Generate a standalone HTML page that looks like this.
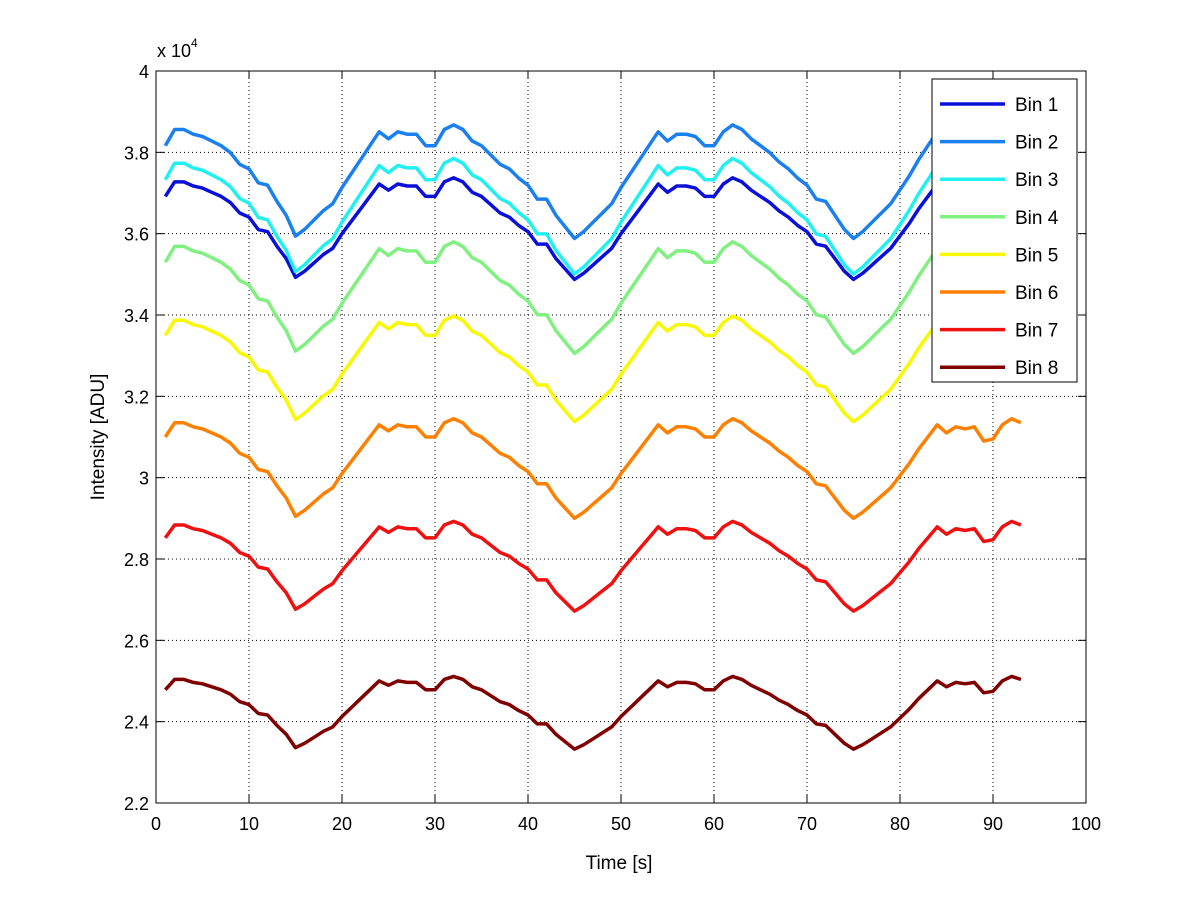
<!DOCTYPE html>
<html><head><meta charset="utf-8"><style>
body{margin:0;background:#fff;}
svg{display:block;font-family:"Liberation Sans",Arial,sans-serif;}
</style></head><body>
<svg id="chart" width="1200" height="901" viewBox="0 0 1200 901">
<rect x="0" y="0" width="1200" height="901" fill="#fff"/>
<g id="grid"></g>
<g id="series"></g>
<rect x="156" y="71" width="930" height="732" fill="none" stroke="#000" stroke-width="1"/>
<g id="ticks"></g>
<text x="157" y="57" font-size="18">x 10<tspan dy="-10" font-size="12">4</tspan></text>
<text x="619" y="869" font-size="19" text-anchor="middle">Time [s]</text>
<text transform="translate(104,437) rotate(-90)" font-size="19" text-anchor="middle">Intensity [ADU]</text>
<g id="legend"></g>
</svg>
<script>
const bin6 = [3.10,3.135,3.135,3.125,3.12,3.11,3.10,3.085,3.06,3.05,3.02,3.015,2.98,2.95,2.905,2.92,2.94,2.96,2.975,3.01,3.04,3.07,3.10,3.13,3.115,3.13,3.125,3.125,3.10,3.10,3.135,3.145,3.135,3.11,3.10,3.08,3.06,3.05,3.03,3.015,2.985,2.985,2.95,2.925,2.90,2.915,2.935,2.955,2.975,3.01,3.04,3.07,3.10,3.13,3.11,3.125,3.125,3.12,3.10,3.10,3.13,3.145,3.135,3.115,3.10,3.085,3.065,3.05,3.03,3.015,2.985,2.98,2.95,2.92,2.90,2.915,2.935,2.955,2.975,3.005,3.035,3.07,3.10,3.13,3.11,3.125,3.12,3.125,3.09,3.095,3.13,3.145,3.135];
const binNames = ["Bin 1","Bin 2","Bin 3","Bin 4","Bin 5","Bin 6","Bin 7","Bin 8"];
const binMids = [3.61,3.725,3.64,3.44,3.265,3.02,2.78,2.42];
const binScales = [1.02,1.14,1.16,1.12,1.06,1.0,0.9,0.73];
const binColors = ["#0a10d8","#1a80f0","#20f0f0","#80f080","#f8f800","#ff8000","#f01010","#800000"];
const xTicks = [0,10,20,30,40,50,60,70,80,90,100];
const yTicks = [2.2,2.4,2.6,2.8,3,3.2,3.4,3.6,3.8,4];
const NS="http://www.w3.org/2000/svg";
const X0=156,X1=1086,Y0=803,Y1=71;
const xs=v=>X0+(v-0)/(100-0)*(X1-X0);
const ys=v=>Y0-(v-2.2)/(4-2.2)*(Y0-Y1);
function mk(t,a,p){const e=document.createElementNS(NS,t);for(const k in a)e.setAttribute(k,a[k]);p.appendChild(e);return e;}
const grid=document.getElementById('grid'),ticks=document.getElementById('ticks');
xTicks.forEach(v=>{
  const x=xs(v);
  if(v>0&&v<100){const g=mk('line',{x1:x,y1:Y0,x2:x,y2:Y1,stroke:'#000','stroke-width':1,'stroke-dasharray':'1,3'},grid);
  
  }
  mk('line',{x1:x,y1:Y0,x2:x,y2:Y0-8,stroke:'#000'},ticks);
  mk('line',{x1:x,y1:Y1,x2:x,y2:Y1+8,stroke:'#000'},ticks);
  const t=mk('text',{x:x,y:Y0+27,'font-size':18,'text-anchor':'middle'},ticks);t.textContent=v;
  
  
});
yTicks.forEach(v=>{
  const y=ys(v);
  if(v>2.2&&v<4){const g=mk('line',{x1:X0,y1:y,x2:X1,y2:y,stroke:'#000','stroke-width':1,'stroke-dasharray':'1,3'},grid);
  
  }
  mk('line',{x1:X0,y1:y,x2:X0+8,y2:y,stroke:'#000'},ticks);
  mk('line',{x1:X1,y1:y,x2:X1-8,y2:y,stroke:'#000'},ticks);
  const t=mk('text',{x:X0-7,y:y+7,'font-size':18,'text-anchor':'end'},ticks);t.textContent=(Math.round(v*10)/10).toString();
  
  
});
const ser=document.getElementById('series');
binNames.forEach((n,i)=>{
  const pts=bin6.map((v,j)=>xs(j+1).toFixed(1)+','+ys(binMids[i]+binScales[i]*(v-3.02)).toFixed(1)).join(' ');
  const p=mk('polyline',{points:pts,fill:'none',stroke:binColors[i],'stroke-width':3.5,'stroke-linejoin':'round'},ser);
  
  
});
const lg=document.getElementById('legend');
const box=mk('rect',{x:932,y:79,width:145,height:303,fill:'#fff',stroke:'#000'},lg);


binNames.forEach((n,i)=>{
  const y=104+i*37.6;
  mk('line',{x1:940,y1:y,x2:1005,y2:y,stroke:binColors[i],'stroke-width':3.5},lg);
  const t=mk('text',{x:1015,y:y+7,'font-size':19},lg);t.textContent=n;
  
  
});
</script>
</body></html>
